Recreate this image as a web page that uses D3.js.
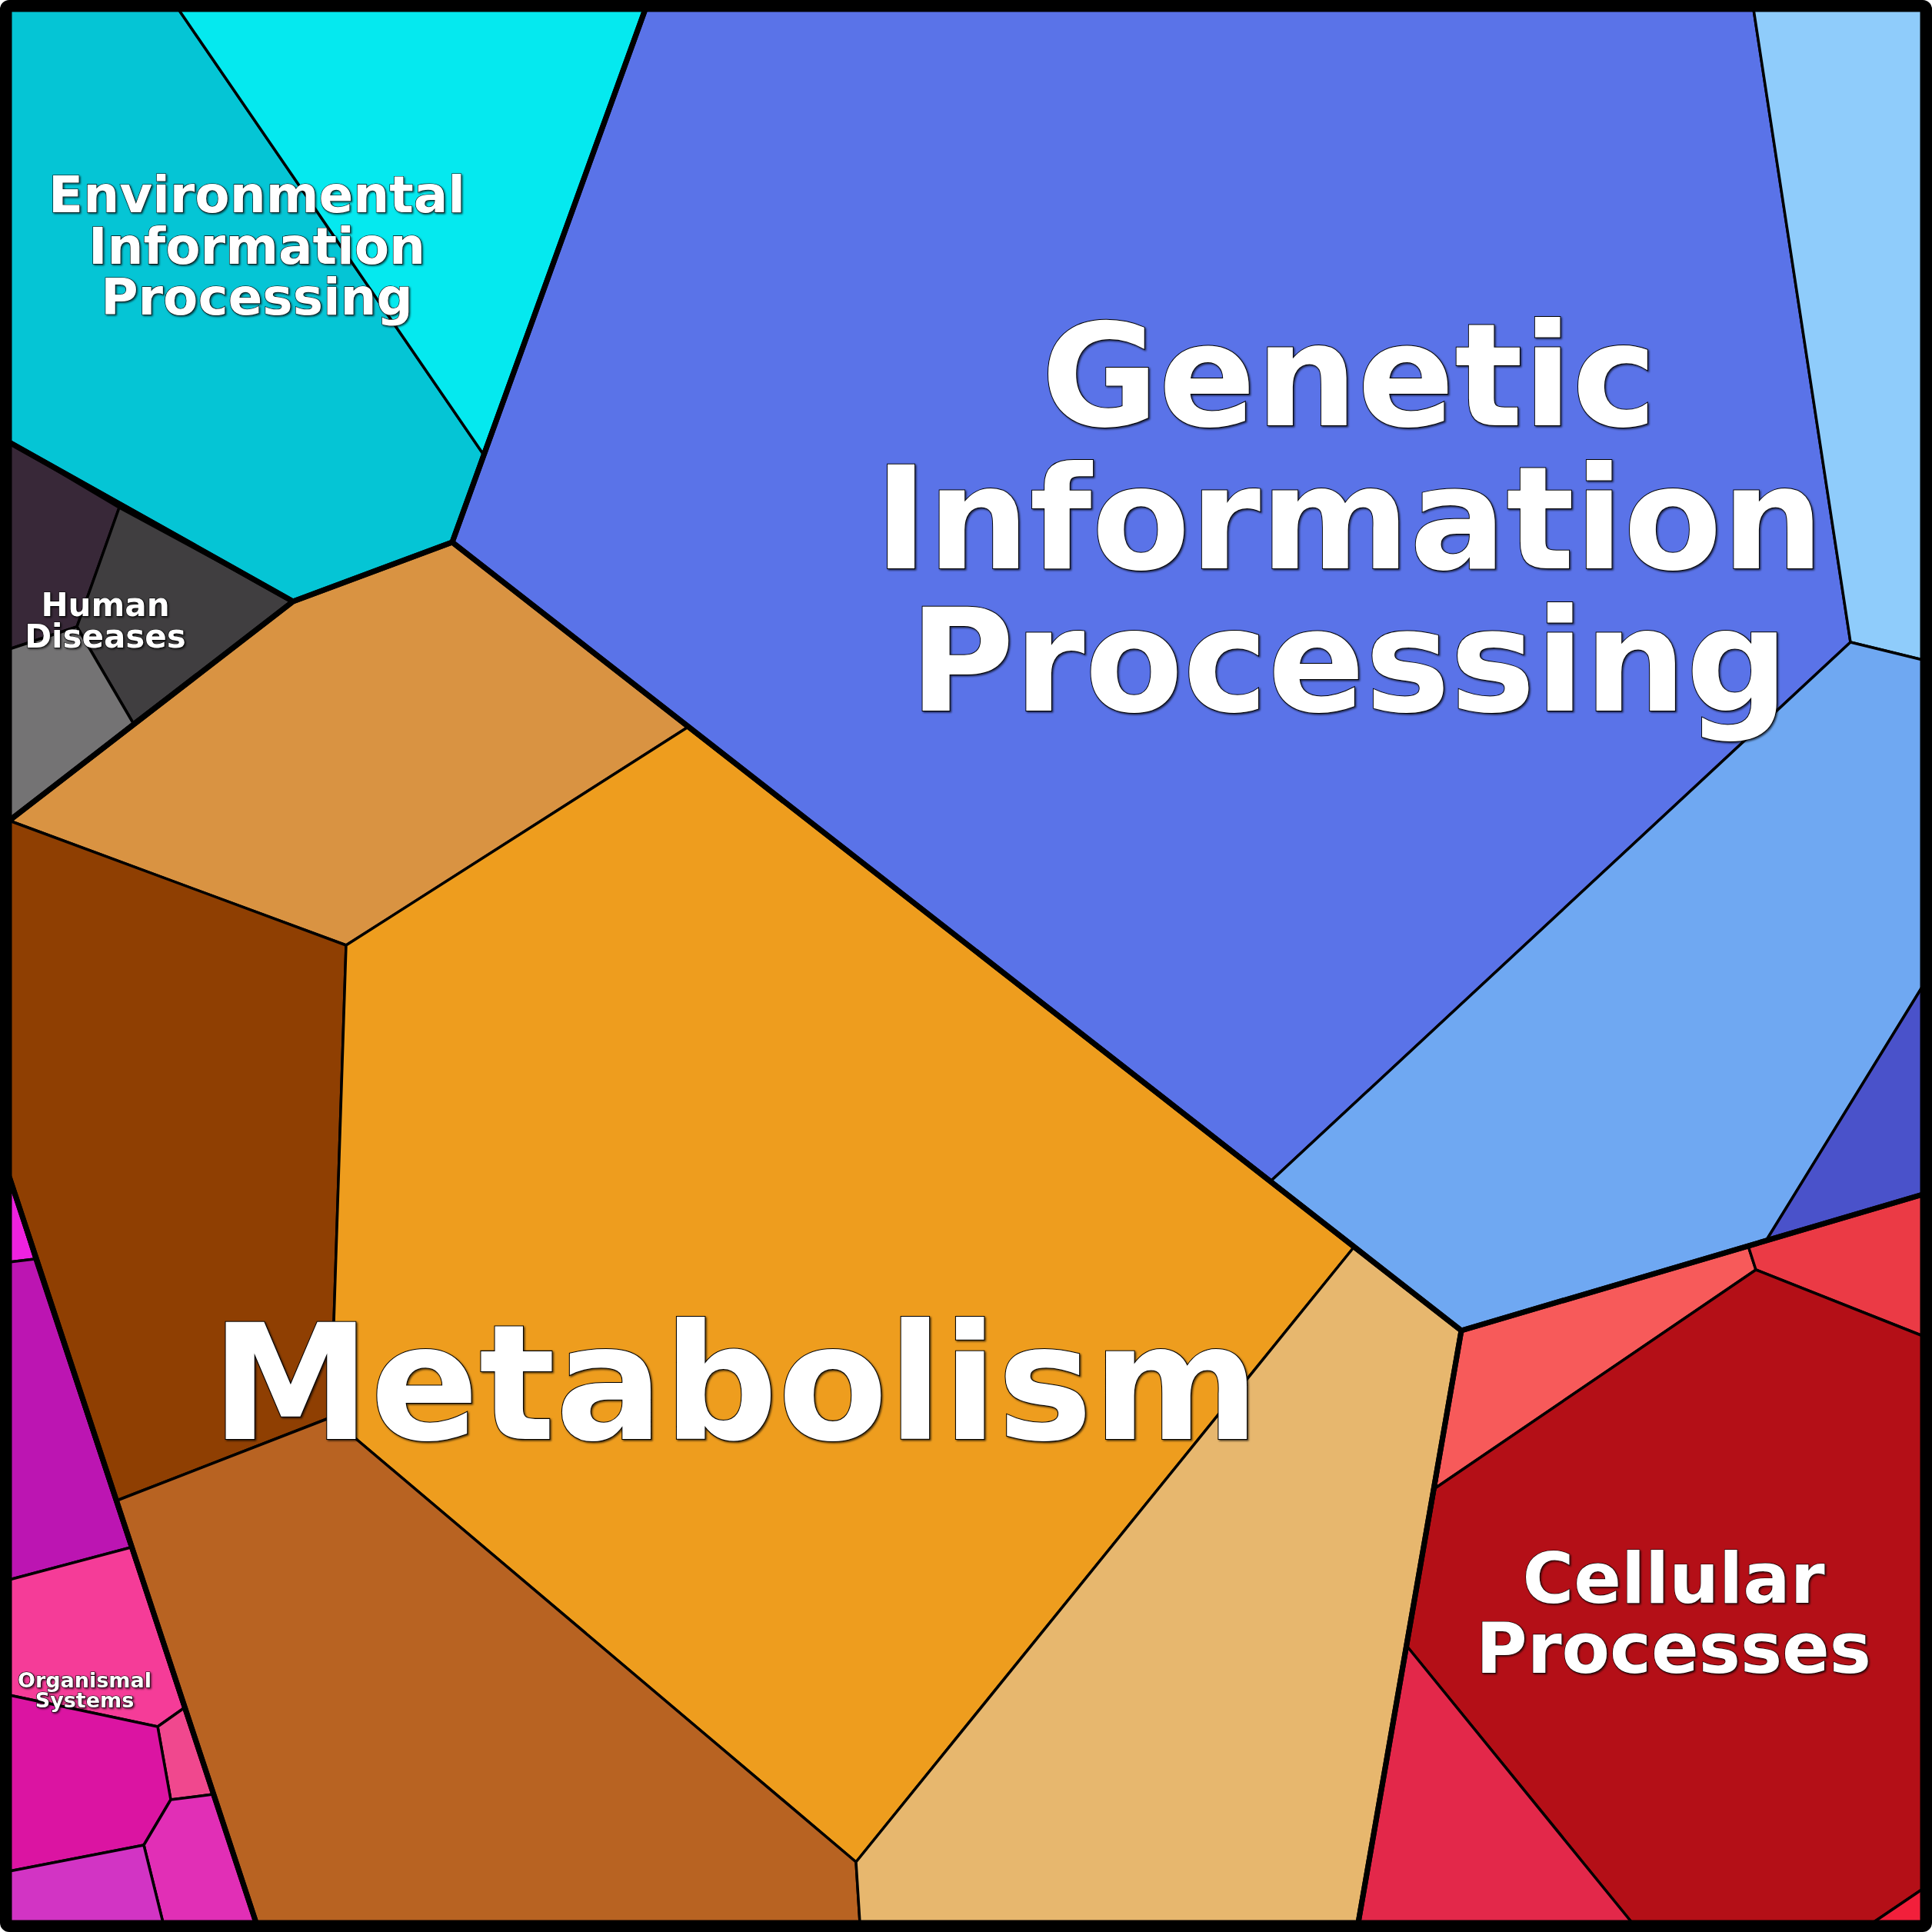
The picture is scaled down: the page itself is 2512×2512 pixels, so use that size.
<!DOCTYPE html>
<html>
<head>
<meta charset="utf-8">
<script src="https://cdn.jsdelivr.net/npm/d3@7"></script>
<style>
  html, body { margin: 0; padding: 0; background: #ffffff; }
  svg { display: block; }
</style>
</head>
<body>
<svg id="chart" width="2512" height="2512"></svg>
<script>
// ---------------- DATA ----------------
// Top-level KEGG categories (groups)
const groups = [
  "Environmental Information Processing",
  "Human Diseases",
  "Genetic Information Processing",
  "Metabolism",
  "Organismal Systems",
  "Cellular Processes"
];

// Leaf cells: which group each belongs to
const cellGroup = [
  0, 0,
  1, 1, 1,
  2, 2, 2, 2,
  3, 3, 3, 3, 3,
  4, 4, 4, 4, 4, 4, 4,
  5, 5, 5, 5, 5
];

// Leaf cell polygons (Voronoi-treemap layout, in layout units 0..2512)
const cellPolygons = [
  [[12,12],[232,12],[628,590],[588,705],[381,782],[12,575]],
  [[232,12],[839,12],[628,590]],
  [[12,575],[155,660],[100,815],[12,844]],
  [[155,660],[381,782],[173,940],[100,815]],
  [[12,844],[100,815],[173,940],[12,1067]],
  [[839,12],[2280,12],[2406,835],[1653,1535],[588,705]],
  [[2280,12],[2500,12],[2500,858],[2406,835]],
  [[1653,1535],[2406,835],[2500,858],[2500,1282],[2297,1612],[1900,1730]],
  [[2297,1612],[2500,1282],[2500,1553]],
  [[12,1067],[381,782],[588,705],[895,945],[450,1229]],
  [[12,1067],[450,1229],[430,1843],[152,1951],[12,1530]],
  [[895,945],[1760,1622],[1113,2421],[430,1843],[450,1229]],
  [[152,1951],[430,1843],[1113,2421],[1118,2500],[333,2500]],
  [[1760,1622],[1900,1730],[1766,2500],[1118,2500],[1113,2421]],
  [[12,1530],[45,1637],[12,1641]],
  [[12,1641],[45,1637],[170,2012],[12,2054]],
  [[12,2054],[170,2012],[239,2221],[205,2245],[12,2204]],
  [[205,2245],[239,2221],[277,2333],[222,2340]],
  [[12,2204],[205,2245],[222,2340],[187,2399],[12,2433]],
  [[187,2399],[222,2340],[277,2333],[333,2500],[212,2500]],
  [[12,2433],[187,2399],[212,2500],[12,2500]],
  [[1900,1730],[2273,1620],[2283,1651],[1866,1935]],
  [[2273,1620],[2500,1553],[2500,1737],[2283,1651]],
  [[1866,1935],[2283,1651],[2500,1737],[2500,2456],[2435,2500],[2122,2500],[1829,2140]],
  [[1829,2140],[2122,2500],[1766,2500]],
  [[2435,2500],[2500,2456],[2500,2500]]
];

// Group label lines
const groupLabelLines = [
  ["Environmental", "Information", "Processing"],
  ["Human", "Diseases"],
  ["Genetic", "Information", "Processing"],
  ["Metabolism"],
  ["Organismal", "Systems"],
  ["Cellular", "Processes"]
];

// ---------------- STYLE / LAYOUT ----------------
const cellColors = [
  "#05C5D5", "#05E9EF",
  "#382838", "#403E40", "#747374",
  "#5A73E8", "#8FCCFB", "#6FA8F2", "#4A52CA",
  "#D99342", "#8F3F02", "#EE9D1E", "#B86322", "#E7B76E",
  "#EE22DF", "#BC15B2", "#F53C98", "#F0488E", "#DB14A2", "#E12FB6", "#D234C4",
  "#F75A5A", "#EB3A45", "#B40F17", "#E3284A", "#F21F3B"
];
// label anchor (layout units): x centre, first baseline, font size, line step
const labelLayout = [
  {x: 334,  y: 276,  size: 66,  step: 66.5},
  {x: 137,  y: 801,  size: 42,  step: 41},
  {x: 1754, y: 553,  size: 186, step: 185.5},
  {x: 956,  y: 1871, size: 208, step: 200},
  {x: 110,  y: 2194, size: 27,  step: 26},
  {x: 2176, y: 2084, size: 91,  step: 91}
];

const W = 2512, H = 2512;
const x = d3.scaleLinear().domain([0, 2512]).range([0, W]);
const y = d3.scaleLinear().domain([0, 2512]).range([0, H]);

const svg = d3.select("#chart");

const defs = svg.append("defs");
const f = defs.append("filter").attr("id", "shadow")
  .attr("x", "-5%").attr("y", "-5%").attr("width", "110%").attr("height", "120%");
f.append("feDropShadow").attr("dx", 1.5).attr("dy", 1.5).attr("stdDeviation", 0.8)
  .attr("flood-color", "#000").attr("flood-opacity", 0.7);

const line = d3.line().x(d => x(d[0])).y(d => y(d[1])).curve(d3.curveLinearClosed);

// cells
svg.append("g").selectAll("path")
  .data(cellPolygons)
  .join("path")
  .attr("d", d => line(d))
  .attr("fill", (d, i) => cellColors[i])
  .attr("stroke", "#000")
  .attr("stroke-width", 3.5)
  .attr("stroke-linejoin", "round");

// group outlines (hull of member cells – Voronoi cells are convex)
const groupHulls = groups.map((g, gi) => {
  const pts = [];
  cellPolygons.forEach((p, i) => { if (cellGroup[i] === gi) p.forEach(v => pts.push(v)); });
  return d3.polygonHull(pts);
});
svg.append("g").selectAll("path")
  .data(groupHulls)
  .join("path")
  .attr("d", d => line(d))
  .attr("fill", "none")
  .attr("stroke", "#000")
  .attr("stroke-width", 7)
  .attr("stroke-linejoin", "round");

// frame
svg.append("rect")
  .attr("x", 6).attr("y", 6).attr("width", W - 12).attr("height", H - 12)
  .attr("rx", 6).attr("ry", 6)
  .attr("fill", "none").attr("stroke", "#000").attr("stroke-width", 12);

// labels
const lg = svg.append("g");
groups.forEach((g, gi) => {
  const L = labelLayout[gi];
  const t = lg.append("text")
    .attr("text-anchor", "middle")
    .attr("font-family", "'DejaVu Sans', sans-serif")
    .attr("font-weight", "bold")
    .attr("font-size", L.size)
    .attr("fill", "#ffffff")
    .attr("stroke", "#000")
    .attr("stroke-width", Math.max(1.2, L.size / 100))
    .attr("paint-order", "stroke")
    .attr("filter", "url(#shadow)");
  groupLabelLines[gi].forEach((s, k) => {
    t.append("tspan").attr("x", x(L.x)).attr("y", y(L.y + k * L.step)).text(s);
  });
});
</script>
</body>
</html>
